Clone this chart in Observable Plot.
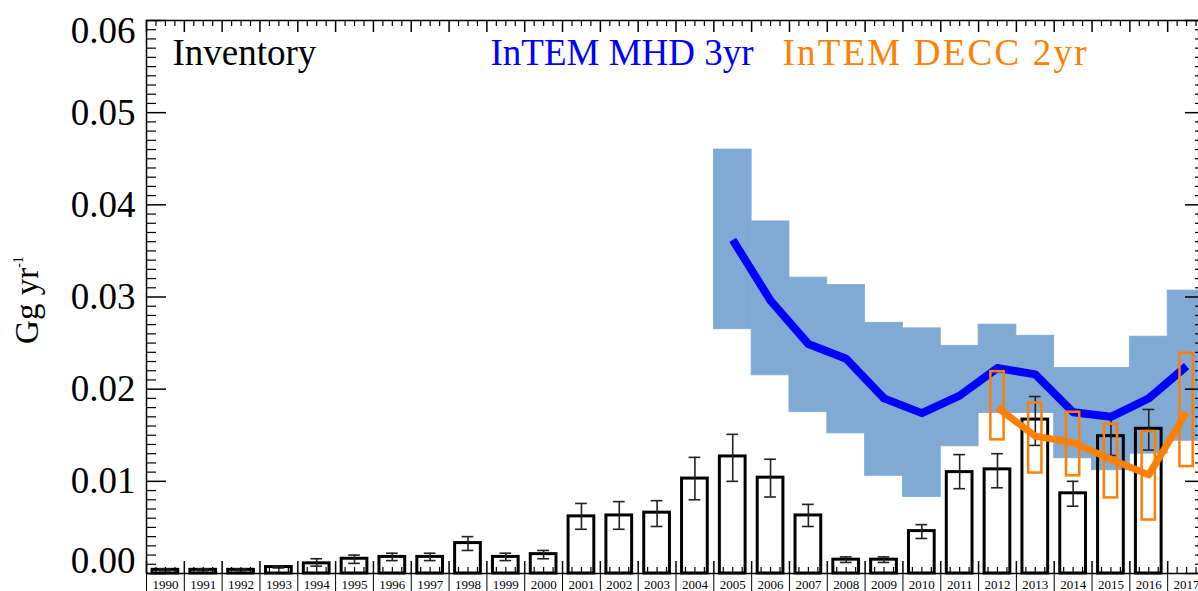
<!DOCTYPE html>
<html>
<head>
<meta charset="utf-8">
<script src="https://cdn.jsdelivr.net/npm/d3@7"></script>
<script src="https://cdn.jsdelivr.net/npm/@observablehq/plot@0.6"></script>
<style>
html, body { margin: 0; padding: 0; background: #fff; overflow: hidden; }
#chart { position: relative; width: 1198px; height: 591px; }
</style>
</head>
<body>
<div id="chart"></div>
<script>
// ---------------- data ----------------
const years = [1990,1991,1992,1993,1994,1995,1996,1997,1998,1999,2000,2001,2002,2003,
               2004,2005,2006,2007,2008,2009,2010,2011,2012,2013,2014,2015,2016,2017];

// Inventory (Gg/yr) with uncertainty range; no value for 2017
const inventory   = [0.0004,0.0004,0.0004,0.0007,0.0011,0.0016,0.0018,0.0018,0.0033,0.0018,0.0021,0.0062,0.0063,0.0066,
                     0.0103,0.0127,0.0104,0.0063,0.0015,0.0015,0.0046,0.0110,0.0113,0.0167,0.0087,0.0149,0.0157,null];
const inventoryLo = [0.0003,0.0003,0.0003,0.0006,0.0008,0.0011,0.0014,0.0014,0.0025,0.0014,0.0016,0.0048,0.0048,0.0051,
                     0.0080,0.0100,0.0083,0.0051,0.0012,0.0012,0.0038,0.0092,0.0093,0.0139,0.0073,0.0128,0.0134,null];
const inventoryHi = [0.0005,0.0005,0.0005,0.0008,0.0016,0.0020,0.0022,0.0022,0.0040,0.0022,0.0025,0.0076,0.0078,0.0079,
                     0.0126,0.0151,0.0124,0.0075,0.0018,0.0018,0.0053,0.0129,0.0130,0.0192,0.0100,0.0170,0.0178,null];

// InTEM MHD 3yr
const mhdYears = [2005,2006,2007,2008,2009,2010,2011,2012,2013,2014,2015,2016,2017];
const mhdValue = [0.0362,0.0296,0.0249,0.0233,0.0190,0.0174,0.0193,0.0223,0.0216,0.0175,0.0170,0.0190,0.0225];
const mhdLo    = [0.0265,0.0215,0.0175,0.0152,0.0106,0.0083,0.0138,0.0174,0.0174,0.0125,0.0112,0.0130,0.0144];
const mhdHi    = [0.0460,0.0382,0.0321,0.0313,0.0272,0.0266,0.0247,0.0270,0.0258,0.0223,0.0223,0.0257,0.0307];

// InTEM DECC 2yr
const deccYears = [2012,2013,2014,2015,2016,2017];
const deccValue = [0.0180,0.0149,0.0142,0.0124,0.0107,0.0175];
const deccLo    = [0.0145,0.0109,0.0106,0.0082,0.0058,0.0116];
const deccHi    = [0.0219,0.0185,0.0175,0.0162,0.0154,0.0239];

const yTickLabels = [0.01,0.02,0.03,0.04,0.05];
const yTopLabel = [0.06];
const yBottomLabel = [0.00];
const legendLabels = ["Inventory", "InTEM MHD 3yr", "InTEM DECC 2yr"];
const yAxisTitle = "Gg yr";
const yAxisTitleSup = "-1";

// ---------------- tables ----------------
const inv = years.map((year, i) => ({year, value: inventory[i], lo: inventoryLo[i], hi: inventoryHi[i]}))
                 .filter(d => d.value != null);
const mhd = mhdYears.map((year, i) => ({year, value: mhdValue[i], lo: mhdLo[i], hi: mhdHi[i]}));
const decc = deccYears.map((year, i) => ({year, value: deccValue[i], lo: deccLo[i], hi: deccHi[i]}));

// tick positions (year boundaries and quarter-year minor ticks)
const boundaries = years.map(y => y - 0.5).concat([years[years.length - 1] + 0.5]);
const quarters = years.flatMap(y => [y - 0.25, y, y + 0.25]);
const yMajor = [0,0.01,0.02,0.03,0.04,0.05,0.06];
const yMinor = d3.range(0, 61).filter(i => i % 10 !== 0).map(i => i / 1000);

// ---------------- layout ----------------
const W = 1198, H = 591, ML = 146, MR = -7, MT = 20, MB = 18;
const FW = W - ML - MR;   // frame width
const FH = H - MT - MB;   // frame height
const SERIF = "'Liberation Serif', 'Times New Roman', serif";
const BLUE = "#0000ff", ORANGE = "#ff7f00", BAND = "#80aad4";

const chart = Plot.plot({
  width: W, height: H,
  marginLeft: ML, marginRight: MR, marginTop: MT, marginBottom: MB,
  x: {type: "linear", domain: [1989.5, 2017.5], axis: null},
  y: {type: "linear", domain: [0, 0.06], axis: null},
  style: {fontFamily: SERIF, background: "white", color: "black"},
  marks: [
    // MHD uncertainty band (steps per year)
    Plot.rectY(mhd, {x1: d => d.year - 0.5, x2: d => d.year + 0.5, y1: "lo", y2: "hi",
                     fill: BAND, stroke: BAND, strokeWidth: 0.8}),
    // Inventory bars
    Plot.rectY(inv, {x1: d => d.year - 0.34, x2: d => d.year + 0.34, y1: () => 0, y2: "value",
                     fill: "none", stroke: "black", strokeWidth: 3}),
    // Inventory error bars
    Plot.ruleX(inv, {x: "year", y1: "lo", y2: "hi", stroke: "#222", strokeWidth: 1.6}),
    Plot.ruleY(inv, {y: "hi", x1: d => d.year - 0.155, x2: d => d.year + 0.155, stroke: "#222", strokeWidth: 1.6}),
    Plot.ruleY(inv, {y: "lo", x1: d => d.year - 0.155, x2: d => d.year + 0.155, stroke: "#222", strokeWidth: 1.6}),
    // MHD line
    Plot.line(mhd, {x: "year", y: "value", stroke: BLUE, strokeWidth: 8, strokeLinecap: "butt", strokeLinejoin: "round"}),
    // DECC uncertainty boxes
    Plot.rectY(decc, {x1: d => d.year - 0.175, x2: d => d.year + 0.175, y1: "lo", y2: "hi",
                      fill: "none", stroke: ORANGE, strokeWidth: 2.5}),
    // DECC line
    Plot.line(decc, {x: "year", y: "value", stroke: ORANGE, strokeWidth: 7, strokeLinecap: "butt", strokeLinejoin: "round"}),
    // frame
    Plot.frame({stroke: "black", strokeWidth: 1.5}),
    // left / right y ticks (inward)
    Plot.tickY(yMajor, {y: d => d, insetRight: FW - 20, stroke: "black", strokeWidth: 1.5}),
    Plot.tickY(yMinor, {y: d => d, insetRight: FW - 10, stroke: "black", strokeWidth: 1.2}),
    Plot.tickY(yMajor, {y: d => d, insetLeft: FW - 20, stroke: "black", strokeWidth: 1.5}),
    Plot.tickY(yMinor, {y: d => d, insetLeft: FW - 10, stroke: "black", strokeWidth: 1.2}),
    // bottom / top x ticks (inward)
    Plot.tickX(boundaries, {x: d => d, insetTop: FH - 12, stroke: "black", strokeWidth: 1.5}),
    Plot.tickX(quarters, {x: d => d, insetTop: FH - 6, stroke: "black", strokeWidth: 1.2}),
    Plot.tickX(boundaries, {x: d => d, insetBottom: FH - 12, stroke: "black", strokeWidth: 1.5}),
    Plot.tickX(quarters, {x: d => d, insetBottom: FH - 6, stroke: "black", strokeWidth: 1.2}),
    // dividers between year labels
    Plot.ruleX(boundaries, {x: d => d, y1: () => 0, y2: () => -0.003, stroke: "black", strokeWidth: 1}),
    // year labels
    Plot.text(years, {x: d => d, frameAnchor: "bottom", lineAnchor: "top", dy: 6,
                      text: d => String(d), fontSize: 13, fill: "black"}),
    // y tick labels
    Plot.text(yTickLabels, {y: d => d, frameAnchor: "left", dx: -11, textAnchor: "end",
                            text: d => d3.format(".2f")(d), fontSize: 37, fill: "black"}),
    Plot.text(yTopLabel, {y: d => d, frameAnchor: "left", dx: -11, dy: 11, textAnchor: "end",
                          text: d => d3.format(".2f")(d), fontSize: 37, fill: "black"}),
    Plot.text(yBottomLabel, {y: d => d, frameAnchor: "left", dx: -11, dy: -12, textAnchor: "end",
                             text: d => d3.format(".2f")(d), fontSize: 37, fill: "black"}),
    // legend labels
    Plot.text([legendLabels[0]], {frameAnchor: "top-left", dx: 26, dy: 18, textAnchor: "start", fontSize: 37, fill: "black"}),
    Plot.text([legendLabels[1]], {frameAnchor: "top-left", dx: 344, dy: 18, textAnchor: "start", fontSize: 37, fill: BLUE}),
    Plot.text([legendLabels[2]], {frameAnchor: "top-left", dx: 636, dy: 18, textAnchor: "start", fontSize: 37, fill: ORANGE,
                                  className: "decc-legend"})
  ]
});

// wider spacing of the DECC legend label, as in the reference
d3.select(chart).selectAll(".decc-legend text").style("letter-spacing", "2.2px");

// y axis title with superscript
const svg = d3.select(chart);
const t = svg.append("text")
  .attr("transform", "translate(38,300) rotate(-90)")
  .attr("text-anchor", "middle")
  .attr("font-family", SERIF)
  .attr("fill", "black");
t.append("tspan").attr("font-size", 33).text(yAxisTitle);
t.append("tspan").attr("font-size", 14).attr("dy", -15).text(yAxisTitleSup);

document.getElementById("chart").appendChild(chart);
</script>
</body>
</html>
